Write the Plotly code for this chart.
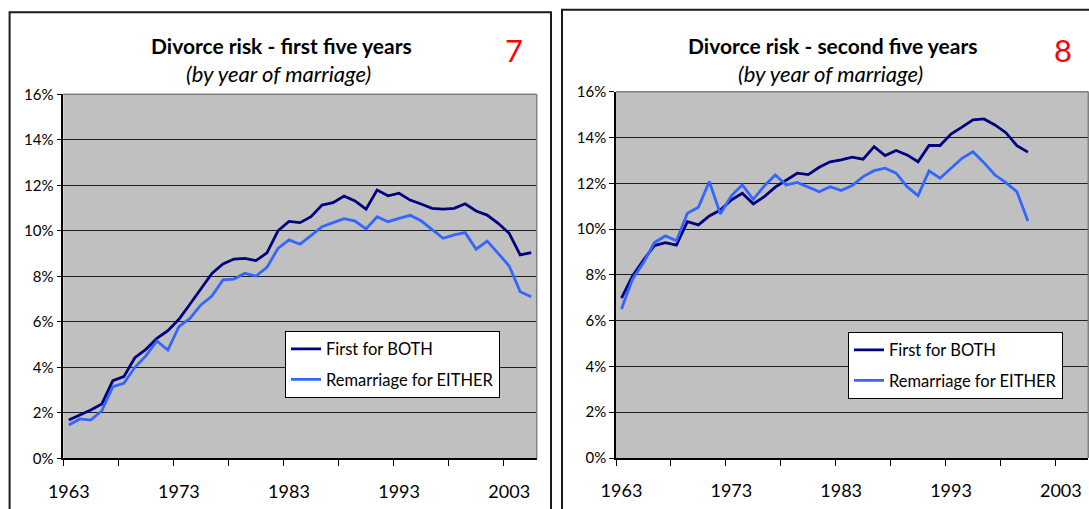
import plotly.graph_objects as go

# ---------------- data ----------------
years_left = list(range(1963, 2006))
first_both_left = [1.68, 1.9, 2.12, 2.39, 3.41, 3.59, 4.42, 4.79, 5.27, 5.61,
                   6.11, 6.77, 7.44, 8.13, 8.54, 8.76, 8.79, 8.69, 9.03, 10.0,
                   10.41, 10.36, 10.62, 11.13, 11.24, 11.53, 11.31, 10.95, 11.79, 11.54,
                   11.65, 11.35, 11.18, 10.99, 10.95, 10.99, 11.19, 10.87, 10.69, 10.33,
                   9.89, 8.94, 9.04]
remarriage_left = [1.46, 1.73, 1.68, 2.09, 3.15, 3.3, 4.0, 4.5, 5.16, 4.76,
                   5.79, 6.15, 6.74, 7.13, 7.84, 7.88, 8.13, 8.01, 8.39, 9.23,
                   9.6, 9.41, 9.79, 10.18, 10.36, 10.53, 10.43, 10.08, 10.62, 10.4,
                   10.55, 10.68, 10.44, 10.04, 9.67, 9.82, 9.92, 9.19, 9.55, 9.01,
                   8.45, 7.32, 7.1]

years_right = list(range(1963, 2001))
first_both_right = [6.98, 7.95, 8.65, 9.28, 9.41, 9.3, 10.32, 10.18, 10.57, 10.83,
                    11.27, 11.56, 11.1, 11.42, 11.83, 12.14, 12.44, 12.38, 12.7, 12.94,
                    13.02, 13.14, 13.05, 13.6, 13.21, 13.43, 13.24, 12.94, 13.65, 13.65,
                    14.15, 14.45, 14.77, 14.81, 14.55, 14.21, 13.64, 13.36]
remarriage_right = [6.51, 7.81, 8.53, 9.41, 9.7, 9.49, 10.69, 10.95, 12.07, 10.66,
                    11.45, 11.93, 11.3, 11.88, 12.36, 11.93, 12.04, 11.85, 11.63, 11.85,
                    11.68, 11.9, 12.29, 12.55, 12.66, 12.44, 11.85, 11.46, 12.54, 12.22,
                    12.66, 13.09, 13.38, 12.9, 12.36, 12.03, 11.63, 10.35]

year_labels = [1963, 1973, 1983, 1993, 2003]
pct_ticks = [0, 2, 4, 6, 8, 10, 12, 14, 16]
series_names = ["First for BOTH", "Remarriage for EITHER"]
titles = ["Divorce risk - first five years", "Divorce risk - second five years"]
subtitle = "(by year of marriage)"
chart_numbers = ["7", "8"]

# ---------------- styling ----------------
W, H = 1089, 509
FONT = "Lato, 'Open Sans', sans-serif"
DARK = "#000080"
LIGHT = "#3366FF"
PLOT_BG = "#C0C0C0"

def px(x):
    return x / W

def py(y):
    return 1 - y / H

left_dom_x = [px(63.3), px(536.7)]
left_dom_y = [py(458.3), py(94.3)]
right_dom_x = [px(616.0), px(1088.3)]
right_dom_y = [py(458.0), py(91.7)]

fig = go.Figure()

fig.add_trace(go.Scatter(x=years_left, y=first_both_left, mode="lines",
                         name=series_names[0], line=dict(color=DARK, width=2.8),
                         xaxis="x", yaxis="y", legend="legend", legendgroup="a"))
fig.add_trace(go.Scatter(x=years_left, y=remarriage_left, mode="lines",
                         name=series_names[1], line=dict(color=LIGHT, width=2.8),
                         xaxis="x", yaxis="y", legend="legend", legendgroup="b"))
fig.add_trace(go.Scatter(x=years_right, y=first_both_right, mode="lines",
                         name=series_names[0], line=dict(color=DARK, width=2.8),
                         xaxis="x2", yaxis="y2", legend="legend2", legendgroup="c"))
fig.add_trace(go.Scatter(x=years_right, y=remarriage_right, mode="lines",
                         name=series_names[1], line=dict(color=LIGHT, width=2.8),
                         xaxis="x2", yaxis="y2", legend="legend2", legendgroup="d"))

def xaxis_cfg(domain, anchor):
    return dict(domain=domain, anchor=anchor, range=[1962.5, 2005.5],
                tickmode="array", tickvals=year_labels,
                ticktext=[str(v) for v in year_labels],
                ticks="outside", ticklen=16, tickcolor="rgba(0,0,0,0)",
                tickfont=dict(family=FONT, size=18, color="#000"),
                showgrid=False, zeroline=False, automargin=False,
                showline=True, linecolor="#000", linewidth=1.5,
                minor=dict(tickmode="linear", tick0=1962.5, dtick=5,
                           ticks="outside", ticklen=6, tickcolor="#000",
                           tickwidth=1.3, showgrid=False),
                fixedrange=True)

def yaxis_cfg(domain, anchor):
    return dict(domain=domain, anchor=anchor, range=[0, 16],
                tickmode="array", tickvals=pct_ticks,
                ticktext=[f"{v}%" for v in pct_ticks],
                ticks="outside", ticklen=5, tickcolor="#000", tickwidth=1.3,
                tickfont=dict(family=FONT, size=15, color="#000"),
                showgrid=True, gridcolor="#1e1e1e", gridwidth=1,
                zeroline=False, showline=True, linecolor="#000", linewidth=1.5,
                automargin=False, fixedrange=True)

legend_common = dict(bgcolor="#FFFFFF", bordercolor="#000", borderwidth=1,
                     font=dict(family=FONT, size=16.5, color="#000"),
                     xanchor="left", yanchor="top", tracegroupgap=6,
                     traceorder="grouped", itemwidth=30)

fig.update_layout(
    width=W, height=H, autosize=False,
    margin=dict(l=0, r=0, t=0, b=0, pad=0, autoexpand=False),
    paper_bgcolor="#FFFFFF",
    plot_bgcolor=PLOT_BG,
    showlegend=True,
    xaxis=xaxis_cfg(left_dom_x, "y"),
    yaxis=yaxis_cfg(left_dom_y, "x"),
    xaxis2=xaxis_cfg(right_dom_x, "y2"),
    yaxis2=yaxis_cfg(right_dom_y, "x2"),
    legend=dict(x=px(285), y=py(330.7), **legend_common),
    legend2=dict(x=px(848), y=py(331.7), **legend_common),
)

shapes = []
# outer chart frames
shapes.append(dict(type="rect", xref="paper", yref="paper",
                   x0=px(9.6), x1=px(551), y0=-0.2, y1=py(12.3),
                   line=dict(color="#1a1a1a", width=2), fillcolor="rgba(0,0,0,0)",
                   layer="below"))
shapes.append(dict(type="rect", xref="paper", yref="paper",
                   x0=px(562), x1=1.2, y0=-0.2, y1=py(9.7),
                   line=dict(color="#1a1a1a", width=2), fillcolor="rgba(0,0,0,0)",
                   layer="below"))
# gray plot-area borders (top & right)
for dx, dy in ((left_dom_x, left_dom_y), (right_dom_x, right_dom_y)):
    shapes.append(dict(type="line", xref="paper", yref="paper",
                       x0=dx[0], x1=dx[1], y0=dy[1], y1=dy[1],
                       line=dict(color="#808080", width=1.5)))
    shapes.append(dict(type="line", xref="paper", yref="paper",
                       x0=dx[1], x1=dx[1], y0=dy[0], y1=dy[1],
                       line=dict(color="#808080", width=1.5)))
fig.update_layout(shapes=shapes)

annotations = []
for title, cx, ty in ((titles[0], 281, 45.7), (titles[1], 832.5, 45)):
    annotations.append(dict(text=f"<b>{title}</b>", xref="paper", yref="paper",
                            x=px(cx), y=py(ty), xanchor="center", yanchor="middle",
                            showarrow=False,
                            font=dict(family=FONT, size=21, color="#000")))
for cx, ty in ((278.5, 73), (830, 73.5)):
    annotations.append(dict(text=f"<i>{subtitle}</i>", xref="paper", yref="paper",
                            x=px(cx), y=py(ty), xanchor="center", yanchor="middle",
                            showarrow=False,
                            font=dict(family=FONT, size=22, color="#000")))
for num, cx, ty in ((chart_numbers[0], 514, 50), (chart_numbers[1], 1062.5, 50)):
    annotations.append(dict(text=num, xref="paper", yref="paper",
                            x=px(cx), y=py(ty), xanchor="center", yanchor="middle",
                            showarrow=False,
                            font=dict(family=FONT, size=31, color="#FF0000")))
fig.update_layout(annotations=annotations)

fig.write_html("out.html", config={"displayModeBar": False},
               post_script="document.body.style.margin='0px';document.body.style.overflow='hidden';")
